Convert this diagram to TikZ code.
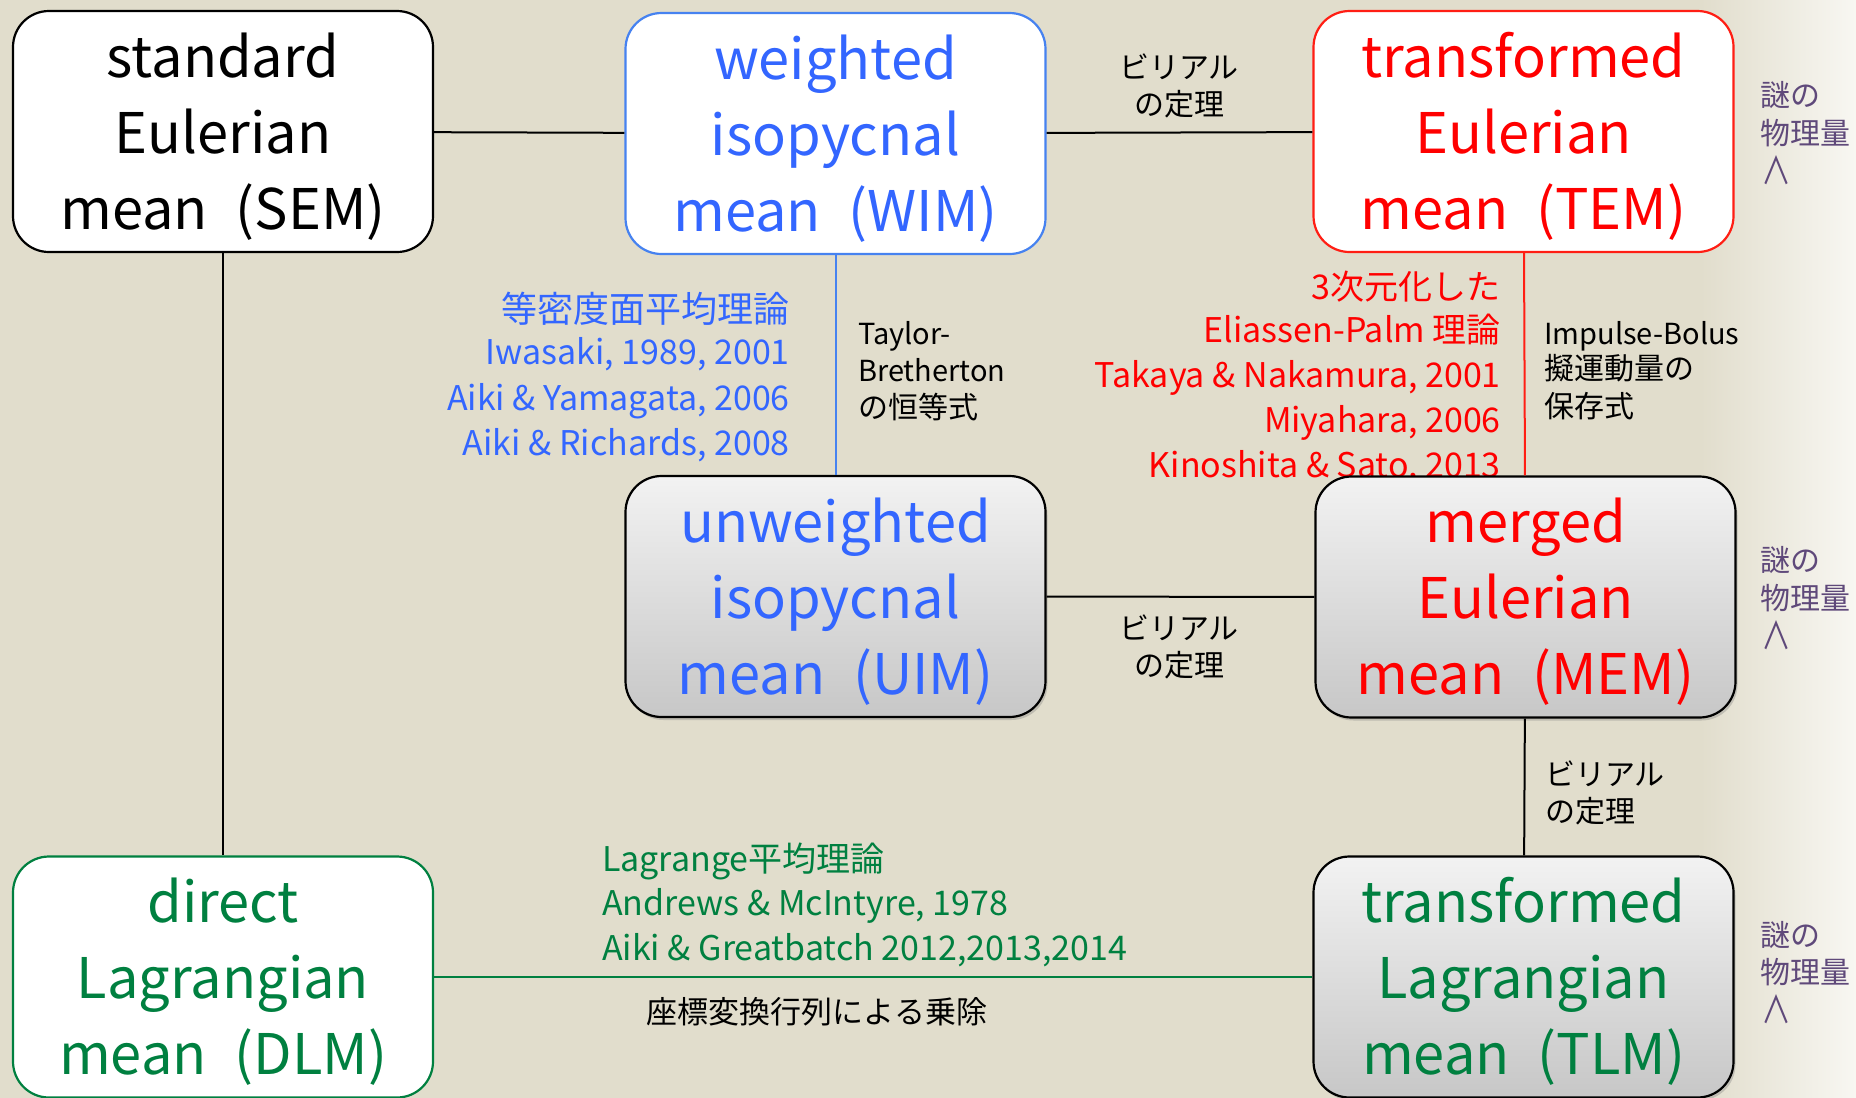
\documentclass[tikz,border=0pt]{standalone}
\usepackage{fontspec}
\setmainfont{Noto Sans CJK JP}
\usetikzlibrary{shadows}
\definecolor{bg}{RGB}{225,221,204}
\definecolor{bgR}{RGB}{248,247,242}
\definecolor{myblue}{RGB}{51,102,255}
\definecolor{myblueB}{RGB}{70,130,240}
\definecolor{myred}{RGB}{255,0,0}
\definecolor{myredB}{RGB}{255,30,20}
\definecolor{mygreen}{RGB}{0,128,64}
\definecolor{mypurple}{RGB}{95,73,122}
\newcommand\boxstrut{\rule{0pt}{54pt}}
\newcommand\pgap{\hspace{0.5em}}
\newcommand\myand{\scalebox{1}[1.25]{∧}}
\tikzset{
  mbox/.style={rounded corners=36pt, minimum width=420pt, minimum height=241pt, inner sep=0pt,
    line width=2.2pt, align=center, font=\fontsize{56}{76}\selectfont},
  wbox/.style={mbox, fill=white},
  gbox/.style={mbox, draw=black, top color=black!5, bottom color=black!22,
    drop shadow={opacity=0.35, shadow xshift=2pt, shadow yshift=-3pt}},
  conn/.style={line width=2pt},
  lab/.style={inner sep=0pt, font=\fontsize{30}{37}\selectfont},
  labl/.style={inner sep=0pt, font=\fontsize{29}{37}\selectfont},
  refs/.style={inner sep=0pt, font=\fontsize{34}{40}\selectfont},
  head/.style={inner sep=0pt, font=\fontsize{36}{40}\selectfont},
  mys/.style={inner sep=0pt, text=mypurple, font=\fontsize{30}{37}\selectfont, anchor=base west},
}
\begin{document}
\begin{tikzpicture}[x=1pt,y=-1pt]
\useasboundingbox (0,0) rectangle (1856,1098);
\fill[bg] (0,0) rectangle (1856,1098);
\shade[left color=bg, right color=bgR] (1700,0) rectangle (1856,1098);

% blue references
\node[head, text=myblue, anchor=base east] (b1) at (790,322) {等密度面平均理論};
\node[refs, text=myblue, anchor=base east] (b2) at (790,364) {Iwasaki, 1989, 2001};
\node[refs, text=myblue, anchor=base east] (b3) at (790,410) {Aiki \& Yamagata, 2006};
\node[refs, text=myblue, anchor=base east] (b4) at (790,455) {Aiki \& Richards, 2008};
% red references
\node[refs, text=myred, anchor=base east] (r1) at (1501,299) {3次元化した};
\node[refs, text=myred, anchor=base east] (r2) at (1501,342) {Eliassen-Palm 理論};
\node[refs, text=myred, anchor=base east] (r3) at (1501,387) {Takaya \& Nakamura, 2001};
\node[refs, text=myred, anchor=base east] (r4) at (1501,432) {Miyahara, 2006};
\node[refs, text=myred, anchor=base east] (r5) at (1501,477) {Kinoshita \& Sato, 2013};
% green references
\node[refs, text=mygreen, anchor=base west] (g1) at (602,871) {Lagrange平均理論};
\node[refs, text=mygreen, anchor=base west] (g2) at (602,915) {Andrews \& McIntyre, 1978};
\node[refs, text=mygreen, anchor=base west] (g3) at (602,960) {Aiki \& Greatbatch 2012,2013,2014};
% black labels
\node[labl, anchor=base west] (t1) at (858,344) {Taylor-};
\node[labl, anchor=base west] (t2) at (858,381) {Bretherton};
\node[lab, anchor=base west] (t3) at (858,418) {の恒等式};
\node[labl, anchor=base west] (i1) at (1544,344) {Impulse-Bolus};
\node[lab, anchor=base west] (i2) at (1544,379) {擬運動量の};
\node[lab, anchor=base west] (i3) at (1544,417) {保存式};
\node[lab, anchor=base] (v1a) at (1179,78) {ビリアル};
\node[lab, anchor=base] (v1b) at (1179,115) {の定理};
\node[lab, anchor=base] (v2a) at (1179,639) {ビリアル};
\node[lab, anchor=base] (v2b) at (1179,676) {の定理};
\node[lab, anchor=base west] (v3a) at (1545,785) {ビリアル};
\node[lab, anchor=base west] (v3b) at (1545,822) {の定理};
\node[lab, font=\fontsize{31}{37}\selectfont, anchor=base] (z1) at (817,1023) {座標変換行列による乗除};
% purple margin notes
\node[mys] (p1a) at (1760,106) {謎の};
\node[mys] (p1b) at (1760,144) {物理量};
\node[mys] (p1c) at (1761,184) {\myand};
\node[mys] (p2a) at (1760,571) {謎の};
\node[mys] (p2b) at (1760,609) {物理量};
\node[mys] (p2c) at (1761,649) {\myand};
\node[mys] (p3a) at (1760,946) {謎の};
\node[mys] (p3b) at (1760,983) {物理量};
\node[mys] (p3c) at (1761,1023) {\myand};

% boxes
\node[wbox, draw=black] (SEM) at (223,131.5) {\boxstrut standard\\Eulerian\\mean\pgap(SEM)};
\node[wbox, draw=myblueB, text=myblue] (WIM) at (835.5,133.5) {\boxstrut weighted\\isopycnal\\mean\pgap(WIM)};
\node[wbox, draw=myredB, text=myred] (TEM) at (1523.5,131.5) {\boxstrut transformed\\Eulerian\\mean\pgap(TEM)};
\node[gbox, text=myblue] (UIM) at (835.5,596.5) {\boxstrut unweighted\\isopycnal\\mean\pgap(UIM)};
\node[gbox, text=myred] (MEM) at (1525.5,597) {\boxstrut merged\\Eulerian\\mean\pgap(MEM)};
\node[wbox, draw=mygreen, text=mygreen] (DLM) at (223,977) {\boxstrut direct\\Lagrangian\\mean\pgap(DLM)};
\node[gbox, text=mygreen] (TLM) at (1523.5,977) {\boxstrut transformed\\Lagrangian\\mean\pgap(TLM)};

% connectors
\draw[conn] (SEM) -- (WIM);
\draw[conn] (WIM) -- (TEM);
\draw[conn] (SEM) -- (DLM);
\draw[conn, myblueB] (WIM) -- (UIM);
\draw[conn, myredB] (TEM) -- (MEM);
\draw[conn] (UIM) -- (MEM);
\draw[conn] (MEM) -- (TLM);
\draw[conn, mygreen] (DLM) -- (TLM);
\end{tikzpicture}
\end{document}
